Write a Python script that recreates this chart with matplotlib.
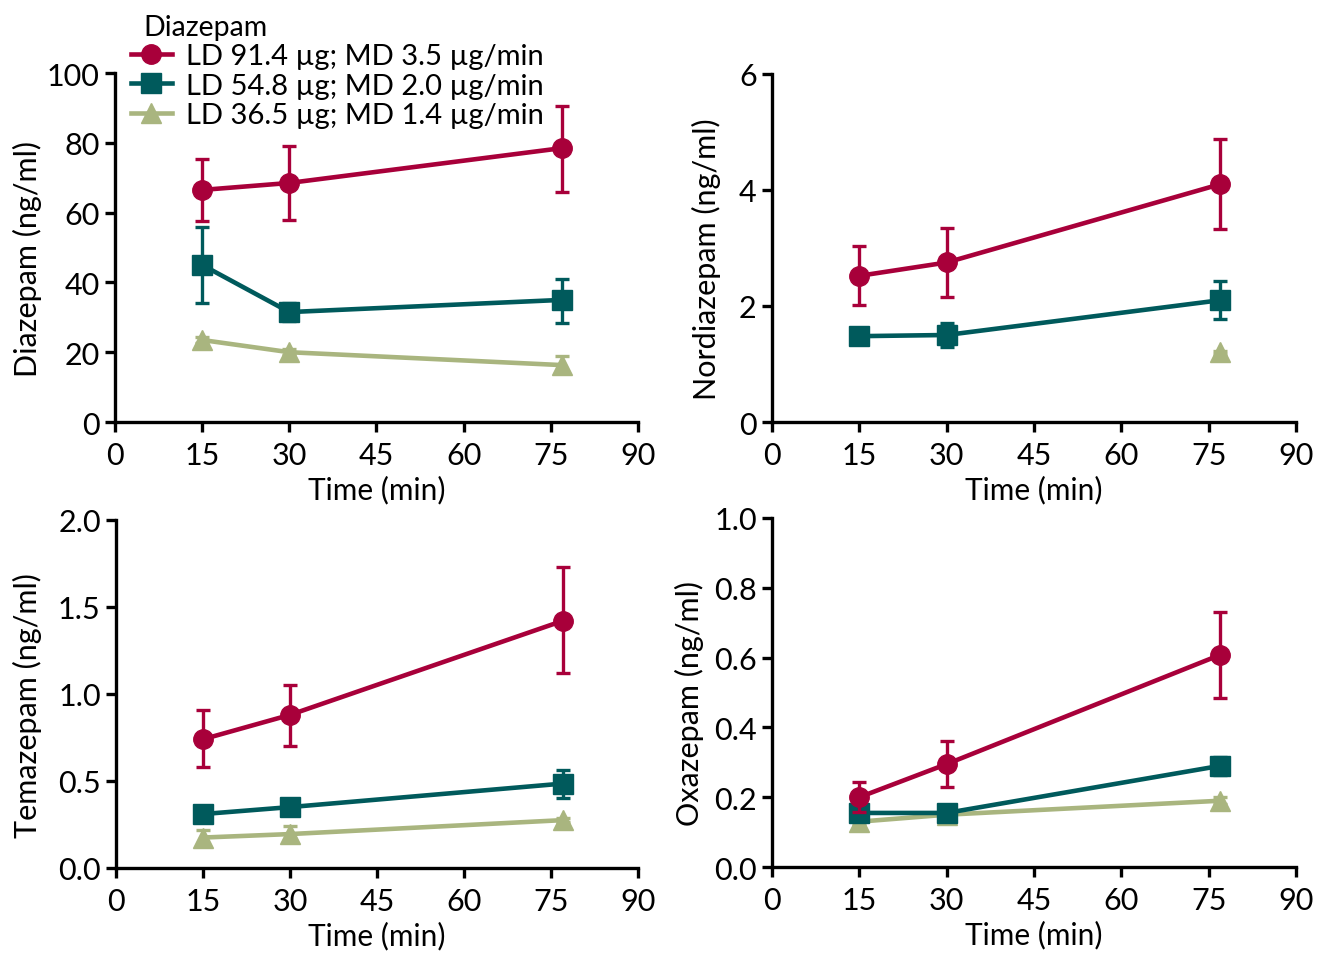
import numpy as np
import matplotlib.pyplot as plt
from matplotlib.lines import Line2D

plt.rcParams['font.family'] = ['Lato', 'DejaVu Sans']

# time points (min)
time = [15, 30, 77]

series_labels = ["LD 91.4 \u00b5g; MD 3.5 \u00b5g/min",
                 "LD 54.8 \u00b5g; MD 2.0 \u00b5g/min",
                 "LD 36.5 \u00b5g; MD 1.4 \u00b5g/min"]
colors = ["#A8003A", "#005A5C", "#A9B57F"]
markers = ["o", "s", "^"]

# Diazepam (ng/ml): mean, lower err, upper err
diaz_high = [66.5, 68.5, 78.5]
diaz_high_lo = [9.0, 10.5, 12.5]
diaz_high_hi = [8.8, 10.5, 12.0]
diaz_mid = [45.0, 31.5, 35.0]
diaz_mid_lo = [11.0, 2.5, 6.5]
diaz_mid_hi = [11.0, 2.5, 6.0]
diaz_low = [23.5, 20.0, 16.3]
diaz_low_lo = [0.8, 0.8, 2.0]
diaz_low_hi = [0.8, 0.8, 2.5]

# Nordiazepam (ng/ml)
nord_high = [2.52, 2.75, 4.1]
nord_high_lo = [0.5, 0.6, 0.77]
nord_high_hi = [0.52, 0.6, 0.78]
nord_mid = [1.48, 1.5, 2.1]
nord_mid_lo = [0.1, 0.2, 0.33]
nord_mid_hi = [0.1, 0.2, 0.33]
nord_low = [np.nan, np.nan, 1.2]
nord_low_lo = [0, 0, 0.03]
nord_low_hi = [0, 0, 0.03]

# Temazepam (ng/ml)
tema_high = [0.74, 0.88, 1.42]
tema_high_lo = [0.16, 0.18, 0.3]
tema_high_hi = [0.17, 0.17, 0.31]
tema_mid = [0.31, 0.35, 0.485]
tema_mid_lo = [0.02, 0.04, 0.08]
tema_mid_hi = [0.02, 0.04, 0.08]
tema_low = [0.175, 0.195, 0.275]
tema_low_lo = [0.04, 0.04, 0.01]
tema_low_hi = [0.045, 0.045, 0.01]

# Oxazepam (ng/ml)
oxa_high = [0.2, 0.295, 0.608]
oxa_high_lo = [0.043, 0.066, 0.124]
oxa_high_hi = [0.043, 0.067, 0.124]
oxa_mid = [0.155, 0.155, 0.29]
oxa_mid_lo = [0.015, 0.012, 0.025]
oxa_mid_hi = [0.015, 0.012, 0.025]
oxa_low = [0.13, 0.15, 0.19]
oxa_low_lo = [0.01, 0.01, 0.01]
oxa_low_hi = [0.01, 0.01, 0.01]

panels = [
    ("Diazepam (ng/ml)", [0, 20, 40, 60, 80, 100], "{:.0f}",
     [(diaz_high, diaz_high_lo, diaz_high_hi), (diaz_mid, diaz_mid_lo, diaz_mid_hi),
      (diaz_low, diaz_low_lo, diaz_low_hi)]),
    ("Nordiazepam (ng/ml)", [0, 2, 4, 6], "{:.0f}",
     [(nord_high, nord_high_lo, nord_high_hi), (nord_mid, nord_mid_lo, nord_mid_hi),
      (nord_low, nord_low_lo, nord_low_hi)]),
    ("Temazepam (ng/ml)", [0, 0.5, 1.0, 1.5, 2.0], "{:.1f}",
     [(tema_high, tema_high_lo, tema_high_hi), (tema_mid, tema_mid_lo, tema_mid_hi),
      (tema_low, tema_low_lo, tema_low_hi)]),
    ("Oxazepam (ng/ml)", [0, 0.2, 0.4, 0.6, 0.8, 1.0], "{:.1f}",
     [(oxa_high, oxa_high_lo, oxa_high_hi), (oxa_mid, oxa_mid_lo, oxa_mid_hi),
      (oxa_low, oxa_low_lo, oxa_low_hi)]),
]

positions = [
    [0.0864, 0.5566, 0.3929, 0.3658],
    [0.5800, 0.5566, 0.3937, 0.3648],
    [0.0872, 0.0891, 0.3921, 0.3648],
    [0.5800, 0.0901, 0.3937, 0.3659],
]
ylabel_x = [-0.14, -0.098, -0.142, -0.13]

fig = plt.figure(figsize=(13.31, 9.54), dpi=100)

for pos, lx, (ylabel, yticks, fmt, data) in zip(positions, ylabel_x, panels):
    ax = fig.add_axes(pos)
    # draw low series first so the high series sits on top
    for i in [2, 1, 0]:
        mean, lo, hi = data[i]
        ax.errorbar(time, mean, yerr=[lo, hi], color=colors[i], marker=markers[i],
                    markersize=14, linewidth=3.3, elinewidth=2.4, capsize=5,
                    capthick=2.4, zorder=3 + (2 - i), clip_on=False)
    ax.set_xlim(0, 90)
    ax.set_xticks([0, 15, 30, 45, 60, 75, 90])
    ax.set_ylim(yticks[0], yticks[-1])
    ax.set_yticks(yticks)
    ax.set_yticklabels([fmt.format(t) for t in yticks])
    for s in ["top", "right"]:
        ax.spines[s].set_visible(False)
    for s in ["left", "bottom"]:
        ax.spines[s].set_linewidth(2.4)
    ax.tick_params(direction="out", length=7, width=2.4, labelsize=22)
    ax.tick_params(axis="x", pad=7)
    ax.tick_params(axis="y", pad=4)
    ax.set_xlabel("Time (min)", fontsize=21.5, labelpad=4)
    ax.set_ylabel(ylabel, fontsize=22)
    ax.yaxis.set_label_coords(lx, 0.47)

handles = [Line2D([], [], color=c, marker=m, markersize=14, linewidth=3.3)
           for c, m in zip(colors, markers)]
leg = fig.legend(handles, series_labels, loc="upper left", bbox_to_anchor=(0.083, 1.006),
                 frameon=False, fontsize=21, title="Diazepam", title_fontsize=20.5,
                 alignment="left", handlelength=1.4, handletextpad=0.5, labelspacing=0.12,
                 borderpad=0.2)
# indent the title a little, as in the source figure
leg._legend_title_box.set_offset((12, 0))
leg.get_title().set_x(12)

fig.savefig("out.png", dpi=100)
